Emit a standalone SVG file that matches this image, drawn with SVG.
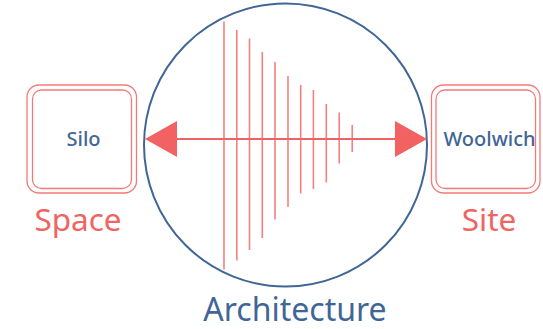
<svg xmlns="http://www.w3.org/2000/svg" width="543" height="329" viewBox="0 0 543 329">
<style>
.box{fill:none;stroke:#f47a7a;stroke-width:1.3}
.label{font-family:"Noto Sans","Liberation Sans",sans-serif;font-weight:500;font-size:20px;fill:#3f6696;text-anchor:middle}
.big{font-family:"Noto Sans","Liberation Sans",sans-serif;font-size:31.5px;text-anchor:middle}
.red{fill:#f06464}
.blue{fill:#3f6696}
.tick{stroke:#f58080;stroke-width:1.6}
</style>
<defs>
<marker id="ah" viewBox="0 0 32 36" refX="0" refY="18" markerWidth="32" markerHeight="36" markerUnits="userSpaceOnUse" orient="auto-start-reverse">
<path d="M0,0 L32,18 L0,36 Z" fill="#f26262"/>
</marker>
</defs>
<g id="architecture">
<circle cx="285.5" cy="145" r="141.5" fill="none" stroke="#3f6696" stroke-width="2"/>
<g>
<line class="tick" x1="224" y1="21.5" x2="224" y2="269.5"/>
<line class="tick" x1="236.8" y1="30" x2="236.8" y2="260.5"/>
<line class="tick" x1="249.5" y1="38.5" x2="249.5" y2="250"/>
<line class="tick" x1="262.3" y1="52" x2="262.3" y2="238"/>
<line class="tick" x1="275" y1="62" x2="275" y2="219.5"/>
<line class="tick" x1="288" y1="76" x2="288" y2="207"/>
<line class="tick" x1="300.7" y1="85" x2="300.7" y2="193.5"/>
<line class="tick" x1="313.4" y1="90" x2="313.4" y2="189"/>
<line class="tick" x1="326.3" y1="104" x2="326.3" y2="182.5"/>
<line class="tick" x1="339.2" y1="112.5" x2="339.2" y2="163.5"/>
<line class="tick" x1="352.2" y1="125" x2="352.2" y2="152"/>
</g>
<text class="big blue" x="295" y="320.5" style="font-size:32px">Architecture</text>
</g>
<g id="silo">
<rect class="box" x="27" y="85" width="109.5" height="108" rx="12"/>
<rect class="box" x="32.5" y="90" width="99" height="98.5" rx="9"/>
<text class="label" x="83.5" y="146">Silo</text>
<text class="big red" x="78" y="230.5">Space</text>
</g>
<g id="woolwich">
<rect class="box" x="431.5" y="85" width="108.5" height="108" rx="12"/>
<rect class="box" x="436" y="90" width="99.5" height="98.5" rx="9"/>
<text class="label" x="489.5" y="146">Woolwich</text>
<text class="big red" x="489" y="231">Site</text>
</g>
<g id="connectors">
<line x1="177" y1="139" x2="395" y2="139" stroke="#f26262" stroke-width="2" marker-start="url(#ah)" marker-end="url(#ah)"/>
</g>
</svg>
